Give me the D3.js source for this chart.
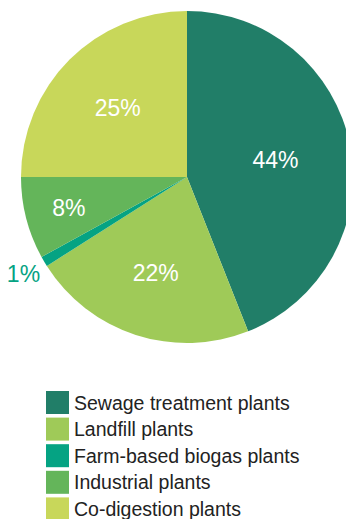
<!DOCTYPE html>
<html>
<head>
<meta charset="utf-8">
<script src="https://cdn.jsdelivr.net/npm/d3@7"></script>
<style>
  body { margin: 0; background: #fff; overflow: hidden; }
  text { font-family: "Liberation Sans", Arial, Helvetica, sans-serif; }
</style>
</head>
<body>
<svg id="chart" width="346" height="519"></svg>
<script>
// podatki
var categories = ["Sewage treatment plants", "Landfill plants", "Farm-based biogas plants", "Industrial plants", "Co-digestion plants"];
var shares = [44, 22, 1, 8, 25];
var labels = ["44%", "22%", "1%", "8%", "25%"];

var colors = ["#217e68", "#9fca58", "#05a383", "#64b55a", "#c8d75a"];
// kje stojijo oznake (razdalja od sredine)
var labelRadius = [90, 101, 190, 122, 98];

var svg = d3.select("#chart");
var cx = 187, cy = 177, r = 166;

var pie = d3.pie().sort(null).value(function(d){ return d; });
var arcs = pie(shares);
var arc = d3.arc().innerRadius(0).outerRadius(r);

var g = svg.append("g").attr("transform", "translate(" + cx + "," + cy + ")");

g.selectAll("path")
  .data(arcs)
  .enter()
  .append("path")
  .attr("d", arc)
  .attr("fill", function(d, i){ return colors[i]; });

g.selectAll("text.lbl")
  .data(arcs)
  .enter()
  .append("text")
  .attr("class", "lbl")
  .attr("transform", function(d, i){
    var c = d3.arc().innerRadius(labelRadius[i]).outerRadius(labelRadius[i]).centroid(d);
    return "translate(" + c[0] + "," + c[1] + ")";
  })
  .attr("text-anchor", "middle")
  .attr("dy", "0.36em")
  .attr("font-size", 23)
  .attr("fill", function(d, i){ return i == 2 ? colors[2] : "#fff"; })
  .text(function(d, i){ return labels[i]; });

// legenda
var legend = svg.append("g").attr("transform", "translate(46,391)");
var row = legend.selectAll("g")
  .data(categories)
  .enter()
  .append("g")
  .attr("transform", function(d, i){ return "translate(0," + (i * 26.6) + ")"; });

row.append("rect")
  .attr("width", 23)
  .attr("height", 23)
  .attr("fill", function(d, i){ return colors[i]; });

row.append("text")
  .attr("x", 28)
  .attr("y", 18.5)
  .attr("font-size", 19.5)
  .attr("fill", "#222")
  .text(function(d){ return d; });
</script>
</body>
</html>
